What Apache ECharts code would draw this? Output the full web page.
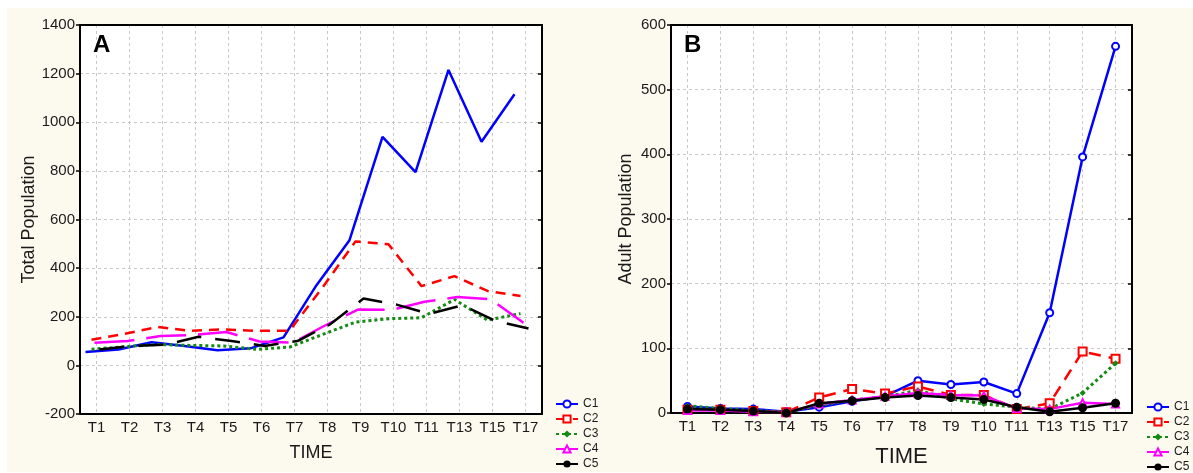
<!DOCTYPE html>
<html>
<head>
<meta charset="utf-8">
<script src="https://cdn.jsdelivr.net/npm/echarts@6/dist/echarts.min.js"></script>
<style>
  html, body { margin: 0; padding: 0; background: #ffffff; }
  #chart { width: 1193px; height: 473px; }
</style>
</head>
<body>
<div id="chart"></div>
<script>
// Sampling times (category axis)
const times = ['T1', 'T2', 'T3', 'T4', 'T5', 'T6', 'T7', 'T8', 'T9', 'T10', 'T11', 'T13', 'T15', 'T17'];
const seriesNames = ['C1', 'C2', 'C3', 'C4', 'C5'];

// A: total population per sampling time
const totalC1 = [55, 65, 95, 80, 62, 70, 115, 330, 515, 940, 795, 1215, 920, 1115];
const totalC2 = [105, 130, 158, 142, 148, 142, 142, 320, 510, 498, 326, 367, 306, 285];
const totalC3 = [66, 77, 86, 82, 80, 66, 75, 127, 178, 192, 196, 271, 186, 213];
const totalC4 = [93, 100, 121, 125, 137, 98, 93, 165, 230, 228, 262, 281, 272, 175];
const totalC5 = [65, 80, 85, 118, 100, 80, 100, 170, 275, 250, 212, 247, 183, 152];

// B: adult population per sampling time
const adultC1 = [10, 7, 6, 2, 9, 18, 26, 50, 44, 48, 30, 155, 396, 567];
const adultC2 = [5, 5, 3, 1, 24, 37, 30, 41, 28, 28, 6, 15, 95, 84];
const adultC3 = [11, 7, 4, 1, 12, 20, 25, 35, 22, 14, 9, 6, 31, 77];
const adultC4 = [4, 4, 2, 1, 14, 20, 26, 31, 28, 27, 7, 6, 16, 14];
const adultC5 = [6, 5, 3, 0, 15, 19, 24, 27, 24, 21, 9, 2, 8, 15];

// Axis ranges
const totalRange = { min: -200, max: 1400, interval: 200 };
const adultRange = { min: 0, max: 600, interval: 100 };

const FONT = '"Liberation Sans", Arial, sans-serif';
const INK = '#1a1a1a';
const GRIDLINE = { color: '#c8c8c8', width: 1, type: [3, 3] };

// Per-series look
const styles = [
  { color: '#0000ff', type: 'solid', width: 2.5, symbol: 'emptyCircle', size: 7 },
  { color: '#ff0000', type: [10, 7], width: 2.5, symbol: 'emptyRect', size: 8 },
  { color: '#138a13', type: [3, 3], width: 3, symbol: 'diamond', size: 6 },
  { color: '#ff00ff', type: [40, 12], width: 2.5, symbol: 'emptyTriangle', size: 7 },
  { color: '#000000', type: [25, 14], width: 2.5, symbol: 'circle', size: 9 }
];
// Panel A lines are drawn slightly offset from the category centres (in band units)
const offsetsA = [-11, -5, -5, -2, 3].map(px => px / 33);

const totals = [totalC1, totalC2, totalC3, totalC4, totalC5];
const adults = [adultC1, adultC2, adultC3, adultC4, adultC5];

function frameAxes(gridIndex, range, yName, yGap, xNameSize, xGap) {
  const x = [
    {
      type: 'category', gridIndex, position: 'bottom', data: times, boundaryGap: true,
      axisLine: { onZero: false, lineStyle: { color: '#000', width: 2 } },
      axisTick: { alignWithLabel: true, length: 4, lineStyle: { color: '#000', width: 1.5 } },
      axisLabel: { fontFamily: FONT, fontSize: 15, color: INK, margin: 6, interval: 0 },
      splitLine: { show: true, alignWithLabel: true, lineStyle: GRIDLINE },
      name: 'TIME', nameLocation: 'middle', nameGap: xGap,
      nameTextStyle: { fontFamily: FONT, fontSize: xNameSize, color: INK }
    },
    {
      type: 'category', gridIndex, position: 'top', data: times, boundaryGap: true,
      axisLine: { onZero: false, lineStyle: { color: '#000', width: 2 } },
      axisTick: { alignWithLabel: true, inside: true, length: 4, lineStyle: { color: '#000', width: 1.5 } },
      axisLabel: { show: false }, splitLine: { show: false }
    }
  ];
  const y = [
    {
      type: 'value', gridIndex, position: 'left', min: range.min, max: range.max, interval: range.interval,
      axisLine: { show: true, onZero: false, lineStyle: { color: '#000', width: 2 } },
      axisTick: { show: true, length: 4, lineStyle: { color: '#000', width: 1.5 } },
      axisLabel: { fontFamily: FONT, fontSize: 15, color: INK, margin: 5, formatter: v => String(v) },
      splitLine: { show: true, lineStyle: GRIDLINE },
      name: yName, nameLocation: 'middle', nameGap: yGap, nameRotate: 90,
      nameTextStyle: { fontFamily: FONT, fontSize: 18, color: INK }
    },
    {
      type: 'value', gridIndex, position: 'right', min: range.min, max: range.max, interval: range.interval,
      axisLine: { show: true, onZero: false, lineStyle: { color: '#000', width: 2 } },
      axisTick: { show: true, inside: true, length: 4, lineStyle: { color: '#000', width: 1.5 } },
      axisLabel: { show: false }, splitLine: { show: false }
    }
  ];
  return { x, y };
}

const axA = frameAxes(0, totalRange, 'Total Population', 42, 18, 30);
const axB = frameAxes(1, adultRange, 'Adult Population', 36, 22, 33);

// hidden value axis that carries the offset line positions of panel A
const hiddenA = { type: 'value', gridIndex: 0, min: 0, max: times.length, show: false, axisLine: { onZero: false } };

const xAxes = [axA.x[0], axA.x[1], hiddenA, axB.x[0], axB.x[1]];
const yAxes = [axA.y[0], axA.y[1], axB.y[0], axB.y[1]];

const series = [];
totals.forEach((vals, k) => {
  const s = styles[k];
  series.push({
    name: seriesNames[k], type: 'line', xAxisIndex: 2, yAxisIndex: 0,
    data: vals.map((v, i) => [i + 0.5 + offsetsA[k], v]),
    symbol: s.symbol, symbolSize: s.size, showSymbol: false,
    lineStyle: { color: s.color, width: s.width, type: s.type },
    itemStyle: { color: s.color, borderWidth: 1.5 },
    silent: true, animation: false
  });
});
adults.forEach((vals, k) => {
  const s = styles[k];
  series.push({
    name: seriesNames[k], type: 'line', xAxisIndex: 3, yAxisIndex: 2,
    data: vals,
    symbol: s.symbol, symbolSize: s.size, showSymbol: true,
    lineStyle: { color: s.color, width: s.width, type: k === 2 ? [3, 3] : (k === 1 ? [12, 8] : 'solid') },
    itemStyle: { color: s.color, borderWidth: 1.8 },
    silent: true, animation: false
  });
});

const legendCommon = {
  orient: 'vertical', itemGap: 3, itemWidth: 22, itemHeight: 9,
  textStyle: { fontFamily: FONT, fontSize: 12, color: INK },
  data: seriesNames, selectedMode: false, padding: 0
};

const chart = echarts.init(document.getElementById('chart'), null, { renderer: 'canvas' });
chart.setOption({
  backgroundColor: '#ffffff',
  animation: false,
  graphic: [{
    type: 'rect', z: -100, silent: true,
    shape: { x: 7, y: 8, width: 1186, height: 464 },
    style: { fill: '#fcfaef' }
  }],
  title: [
    { text: 'A', left: 93, top: 33, padding: 0, textStyle: { fontFamily: FONT, fontSize: 24, fontWeight: 'bold', color: '#000' } },
    { text: 'B', left: 684, top: 33, padding: 0, textStyle: { fontFamily: FONT, fontSize: 24, fontWeight: 'bold', color: '#000' } }
  ],
  grid: [
    { left: 80, top: 25, width: 462, height: 389, show: true, backgroundColor: '#ffffff', borderWidth: 0, containLabel: false },
    { left: 671, top: 25, width: 461, height: 394, show: true, backgroundColor: '#ffffff', borderWidth: 0, containLabel: false }
  ],
  legend: [
    Object.assign({ left: 555, top: 398 }, legendCommon),
    Object.assign({ left: 1146, top: 401 }, legendCommon)
  ],
  xAxis: xAxes,
  yAxis: yAxes,
  series
});
</script>
</body>
</html>
